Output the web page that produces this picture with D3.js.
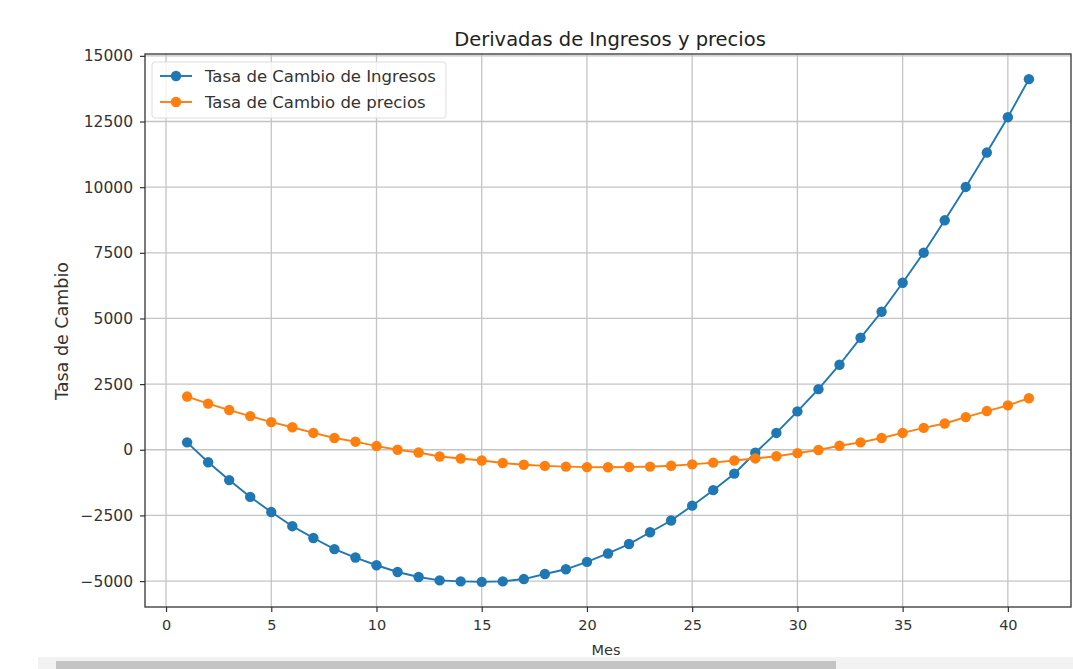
<!DOCTYPE html>
<html>
<head>
<meta charset="utf-8">
<script src="https://cdn.jsdelivr.net/npm/d3@7"></script>
<style>
  html, body { margin: 0; padding: 0; background: #fff; }
  svg { display: block; font-family: "DejaVu Sans", sans-serif; }
</style>
</head>
<body>
<svg id="chart" width="1073" height="669"></svg>
<script>
// Months 1..41
const meses = d3.range(1, 42);

// Rate of change of revenue (Ingresos)
const ingresos = [
  282, -474, -1154, -1795, -2372, -2910, -3359, -3782, -4103, -4397,
  -4654, -4846, -4974, -5013, -5030, -5010, -4923, -4731, -4551, -4269,
  -3949, -3590, -3141, -2692, -2128, -1538, -910, -115, 641, 1462,
  2308, 3238, 4264, 5255, 6361, 7505, 8738, 10009, 11318, 12665,
  14114
];

// Rate of change of prices (precios)
const precios = [
  2026, 1756, 1513, 1282, 1051, 859, 641, 449, 308, 141,
  0, -103, -256, -333, -410, -505, -570, -612, -641, -660,
  -665, -655, -641, -610, -555, -490, -410, -330, -245, -128,
  -10, 154, 282, 449, 641, 833, 1000, 1244, 1474, 1692,
  1961
];

const seriesNames = ["Tasa de Cambio de Ingresos", "Tasa de Cambio de precios"];
const seriesColors = ["#1f77b4", "#ff7f0e"];
const xTicks = [0, 5, 10, 15, 20, 25, 30, 35, 40];
const yTicks = [-5000, -2500, 0, 2500, 5000, 7500, 10000, 12500, 15000];

const title = "Derivadas de Ingresos y precios";
const xLabel = "Mes";
const yLabel = "Tasa de Cambio";

const svg = d3.select("#chart");
const plot = { left: 145, right: 1071, top: 54, bottom: 607 };

// Axis limits with 5% padding around the data
const xMin = d3.min(meses), xMax = d3.max(meses);
const xPad = (xMax - xMin) * 0.05;
const allY = ingresos.concat(precios);
const yMin = d3.min(allY), yMax = d3.max(allY);
const yPad = (yMax - yMin) * 0.05;

const x = d3.scaleLinear().domain([xMin - xPad, xMax + xPad]).range([plot.left, plot.right]);
const y = d3.scaleLinear().domain([yMin - yPad, yMax + yPad]).range([plot.bottom, plot.top]);

// Grid
const grid = svg.append("g");
grid.selectAll("line.gx").data(xTicks).join("line")
  .attr("x1", d => x(d)).attr("x2", d => x(d))
  .attr("y1", plot.top).attr("y2", plot.bottom)
  .attr("stroke", "#c4c4c4").attr("stroke-width", 1.3);
grid.selectAll("line.gy").data(yTicks).join("line")
  .attr("x1", plot.left).attr("x2", plot.right)
  .attr("y1", d => y(d)).attr("y2", d => y(d))
  .attr("stroke", "#c4c4c4").attr("stroke-width", 1.3);

// Axes
const xAxis = d3.axisBottom(x).tickValues(xTicks).tickSize(5).tickPadding(8).tickFormat(d3.format("d"));
const yAxis = d3.axisLeft(y).tickValues(yTicks).tickSize(5).tickPadding(7).tickFormat(d3.format("d"));

const gx = svg.append("g").attr("transform", `translate(0,${plot.bottom})`).call(xAxis);
const gy = svg.append("g").attr("transform", `translate(${plot.left},0)`).call(yAxis);
[gx, gy].forEach(g => {
  g.select(".domain").remove();
  g.selectAll(".tick line").attr("stroke", "#333").attr("stroke-width", 1.2);
  g.selectAll(".tick text").attr("fill", "#333")
    .style("font-family", "'DejaVu Sans', sans-serif");
});
gx.selectAll(".tick text").style("font-size", "14.5px");
gy.selectAll(".tick text").style("font-size", "15.5px");

// Series
const line = d3.line().x((d, i) => x(meses[i])).y(d => y(d));
[ingresos, precios].forEach((vals, k) => {
  const g = svg.append("g");
  g.append("path").datum(vals)
    .attr("d", line).attr("fill", "none")
    .attr("stroke", seriesColors[k]).attr("stroke-width", 1.9);
  g.selectAll("circle").data(vals).join("circle")
    .attr("cx", (d, i) => x(meses[i])).attr("cy", d => y(d))
    .attr("r", 5.2).attr("fill", seriesColors[k]);
});

// Frame
svg.append("rect")
  .attr("x", plot.left).attr("y", plot.top)
  .attr("width", plot.right - plot.left).attr("height", plot.bottom - plot.top)
  .attr("fill", "none").attr("stroke", "#333").attr("stroke-width", 1.3);

// Title and axis labels
svg.append("text").attr("x", 610).attr("y", 46)
  .attr("text-anchor", "middle").style("font-size", "19.5px").attr("fill", "#222").text(title);
svg.append("text").attr("x", 606).attr("y", 655)
  .attr("text-anchor", "middle").style("font-size", "14.5px").attr("fill", "#333").text(xLabel);
svg.append("text").attr("transform", `translate(68,331) rotate(-90)`)
  .attr("text-anchor", "middle").style("font-size", "17.5px").attr("fill", "#333").text(yLabel);

// Legend
const lg = svg.append("g").attr("transform", "translate(152,62)");
lg.append("rect").attr("width", 294).attr("height", 56).attr("rx", 3)
  .attr("fill", "#fff").attr("fill-opacity", 0.8).attr("stroke", "#ddd");
seriesNames.forEach((name, k) => {
  const yy = 14 + k * 26;
  lg.append("line").attr("x1", 8).attr("x2", 40).attr("y1", yy).attr("y2", yy)
    .attr("stroke", seriesColors[k]).attr("stroke-width", 1.9);
  lg.append("circle").attr("cx", 24).attr("cy", yy).attr("r", 5.2).attr("fill", seriesColors[k]);
  lg.append("text").attr("x", 53).attr("y", yy + 6)
    .style("font-size", "16.5px").attr("fill", "#333").text(name);
});

// Horizontal scrollbar strip under the figure
svg.append("rect").attr("x", 38).attr("y", 657).attr("width", 1035).attr("height", 12).attr("fill", "#f2f2f2");
svg.append("rect").attr("x", 56).attr("y", 661).attr("width", 780).attr("height", 8).attr("fill", "#c4c4c4");
</script>
</body>
</html>
